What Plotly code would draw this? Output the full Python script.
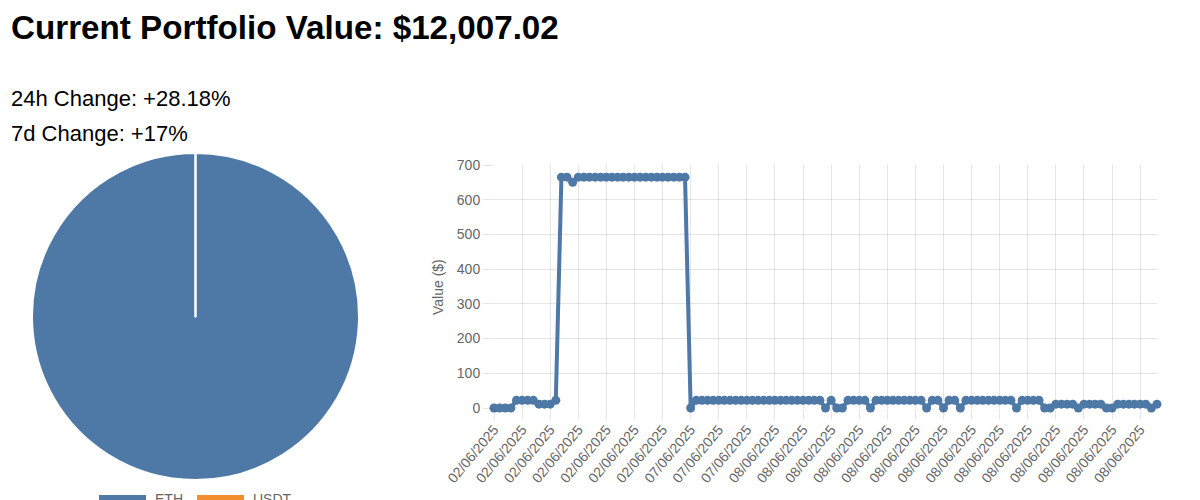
import plotly.graph_objects as go

# pie
pie_labels = ["ETH", "USDT"]
pie_values = [12007.01, 0.01]
pie_colors = ["#4e79a7", "#f28e2b"]

# line, one value per snapshot
dates = ["02/06/2025"] * 35 + ["07/06/2025"] * 15 + ["08/06/2025"] * 69
values = [
    0, 0, 0, 0, 22, 22, 22, 22, 11, 11, 11, 22,
    665, 665, 650, 665, 665, 665, 665, 665, 665, 665, 665, 665,
    665, 665, 665, 665, 665, 665, 665, 665, 665, 665, 665,
    0, 22, 22, 22, 22, 22, 22, 22, 22, 22, 22, 22, 22, 22, 22, 22, 22, 22, 22, 22, 22, 22, 22, 22,
    0, 22, 0, 0, 22, 22, 22, 22, 0, 22, 22, 22, 22, 22, 22, 22, 22, 22,
    0, 22, 22, 0, 22, 22, 0, 22, 22, 22, 22, 22, 22, 22, 22, 22,
    0, 22, 22, 22, 22, 0, 0, 11, 11, 11, 11, 0, 11, 11, 11, 11, 0, 0,
    11, 11, 11, 11, 11, 11, 0, 11,
]
y_ticks = [0, 100, 200, 300, 400, 500, 600, 700]

W, H = 1200, 500
GREY = "#666666"
GRID = "rgba(0,0,0,0.1)"
BLUE = "#4e79a7"


def px(x):
    return x / W


def py(y):
    return 1 - y / H


idx = list(range(len(values)))

fig = go.Figure()

fig.add_trace(go.Pie(
    labels=pie_labels,
    values=pie_values,
    sort=False,
    direction="clockwise",
    rotation=0,
    textinfo="none",
    hoverinfo="label+value",
    showlegend=False,
    marker=dict(colors=pie_colors, line=dict(color="white", width=2)),
    domain=dict(x=[px(32), px(359)], y=[py(480), py(153)]),
))

fig.add_trace(go.Scatter(
    x=idx,
    y=values,
    mode="lines+markers",
    showlegend=False,
    line=dict(color=BLUE, width=4),
    marker=dict(color=BLUE, size=9),
    cliponaxis=False,
))

fig.update_xaxes(
    automargin=False,
    domain=[px(494), px(1157)],
    range=[0, len(values) - 1],
    tickmode="array",
    tickvals=idx[::5],
    ticktext=dates[::5],
    tickangle=-50,
    ticks="outside",
    ticklen=10,
    ticklabelstandoff=-3,
    tickcolor=GRID,
    gridcolor=GRID,
    showline=False,
    zeroline=False,
    tickfont=dict(family="Liberation Sans", size=14, color=GREY),
)
fig.update_yaxes(
    automargin=False,
    domain=[py(408), py(165)],
    range=[0, 700],
    tickmode="array",
    tickvals=y_ticks,
    ticks="outside",
    ticklen=10,
    tickcolor=GRID,
    gridcolor=GRID,
    showline=False,
    zeroline=False,
    tickfont=dict(family="Liberation Sans", size=14, color=GREY),
)


def text(x, y, s, size, color="black", bold=False, angle=0, anchor="left"):
    fig.add_annotation(
        x=px(x), y=py(y), xref="paper", yref="paper",
        text="<b>%s</b>" % s if bold else s,
        showarrow=False, xanchor=anchor, yanchor="middle",
        textangle=angle, borderpad=0, borderwidth=0,
        font=dict(family="Liberation Sans", size=size, color=color),
    )


text(11, 27, "Current Portfolio Value: $12,007.02", 33.2, bold=True)
text(11, 98.5, "24h Change: +28.18%", 22)
text(11, 133.5, "7d Change: +17%", 22)
text(438, 287, "Value ($)", 14, color=GREY, angle=-90, anchor="center")
text(155, 499, "ETH", 14, color=GREY)
text(253, 499, "USDT", 14, color=GREY)

# pie legend swatches, cut off by the bottom of the page like the original
for x0, c in [(99, pie_colors[0]), (197, pie_colors[1])]:
    fig.add_shape(
        type="rect", xref="paper", yref="paper",
        x0=px(x0), x1=px(x0 + 47), y0=py(506), y1=py(495),
        fillcolor=c, line=dict(width=0),
    )

fig.update_layout(
    width=W,
    height=H,
    margin=dict(l=0, r=0, t=0, b=0),
    paper_bgcolor="white",
    plot_bgcolor="white",
)

fig.write_html(
    "out.html",
    config=dict(displayModeBar=False),
    post_script="document.body.style.margin='0';document.body.style.overflow='hidden';",
)
